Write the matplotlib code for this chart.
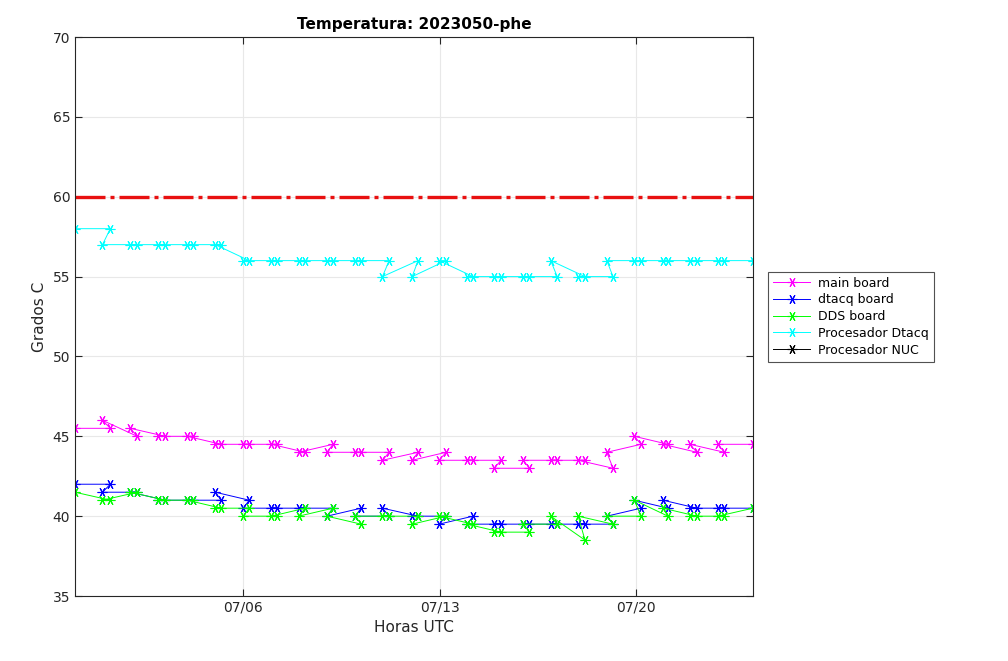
import matplotlib
matplotlib.use('Agg')
import matplotlib.pyplot as plt
from datetime import datetime, timedelta

# muestras (dias desde 06/30 00:00), en el orden en que vienen del archivo
inicio = datetime(2023, 6, 30)
dias = [0.0, 1.26, 0.98, 2.22, 1.97, 3.22, 2.97, 4.22, 4.00, 5.21, 5.00,
        6.21, 6.00, 7.21, 7.00, 8.21, 7.97, 9.20, 8.98, 10.20, 9.99,
        11.20, 10.96, 12.23, 12.02, 13.23, 12.98, 14.19, 13.98, 15.19, 14.94,
        16.20, 15.98, 17.19, 16.96, 18.18, 17.94, 19.18, 18.96, 20.18, 19.94,
        21.14, 20.96, 22.17, 21.92, 23.15, 22.92, 24.17]

main_board = [45.5, 45.5, 46, 45, 45.5, 45, 45, 45, 45, 44.5, 44.5,
              44.5, 44.5, 44.5, 44.5, 44, 44, 44.5, 44, 44, 44,
              44, 43.5, 44, 43.5, 44, 43.5, 43.5, 43.5, 43.5, 43,
              43, 43.5, 43.5, 43.5, 43.5, 43.5, 43, 44, 44.5, 45,
              44.5, 44.5, 44, 44.5, 44, 44.5, 44.5]

dtacq_board = [42, 42, 41.5, 41.5, 41.5, 41, 41, 41, 41, 41, 41.5,
               41, 40.5, 40.5, 40.5, 40.5, 40.5, 40.5, 40, 40.5, 40,
               40, 40.5, 40, 40, 40, 39.5, 40, 39.5, 39.5, 39.5,
               39.5, 39.5, 39.5, 39.5, 39.5, 39.5, 39.5, 40, 40.5, 41,
               40.5, 41, 40.5, 40.5, 40.5, 40.5, 40.5]

dds_board = [41.5, 41, 41, 41.5, 41.5, 41, 41, 41, 41, 40.5, 40.5,
             40.5, 40, 40, 40, 40.5, 40, 40.5, 40, 39.5, 40,
             40, 40, 40, 39.5, 40, 40, 39.5, 39.5, 39, 39,
             39, 39.5, 39.5, 40, 38.5, 40, 39.5, 40, 40, 41,
             40, 40.5, 40, 40, 40, 40, 40.5]

proc_dtacq = [58, 58, 57, 57, 57, 57, 57, 57, 57, 57, 57,
              56, 56, 56, 56, 56, 56, 56, 56, 56, 56,
              56, 55, 56, 55, 56, 56, 55, 55, 55, 55,
              55, 55, 55, 56, 55, 55, 55, 56, 56, 56,
              56, 56, 56, 56, 56, 56, 56]

proc_nuc = []  # sin datos en este periodo

limite = 60
tick_fechas = [datetime(2023, 7, 6), datetime(2023, 7, 13), datetime(2023, 7, 20)]
tick_textos = ['07/06', '07/13', '07/20']

fechas = [inicio + timedelta(days=d) for d in dias]

fig = plt.figure(figsize=(10.08, 6.61), dpi=100)
ax = fig.add_axes([0.0744, 0.0983, 0.6726, 0.8457])

asterisco = (6, 2, 90)
estilo = dict(marker=asterisco, ms=7, mew=0.8, lw=0.7)
ax.plot(fechas, main_board, color='#ff00ff', label='main board', **estilo)
ax.plot(fechas, dtacq_board, color='#0000ff', label='dtacq board', **estilo)
ax.plot(fechas, dds_board, color='#00ff00', label='DDS board', **estilo)
ax.plot(fechas, proc_dtacq, color='#00ffff', label='Procesador Dtacq', **estilo)
ax.plot(fechas[:len(proc_nuc)], proc_nuc, color='k', label='Procesador NUC', **estilo)
ax.axhline(limite, color='#e81010', lw=2.4, dashes=(9, 1.5, 1.2, 1.5))

ax.set_xlim(fechas[0], fechas[-1])
ax.set_ylim(35, 70)
ax.set_yticks(range(35, 71, 5))
ax.set_xticks(tick_fechas)
ax.set_xticklabels(tick_textos)

ax.grid(True, color='#e8e8e8', lw=0.8)
ax.set_axisbelow(True)
for s in ax.spines.values():
    s.set_color('#262626')
    s.set_linewidth(0.8)
ax.tick_params(direction='in', top=True, right=True, labelsize=10,
               colors='#262626', length=5)

ax.set_title('Temperatura: 2023050-phe', fontsize=11, fontweight='bold')
ax.set_xlabel('Horas UTC', fontsize=11, color='#262626')
ax.set_ylabel('Grados C', fontsize=11, color='#262626')

leg = ax.legend(loc='center left', bbox_to_anchor=(1.022, 0.5), fontsize=9,
                frameon=True, fancybox=False, handlelength=3.0,
                borderaxespad=0, labelspacing=0.3, borderpad=0.4,
                handletextpad=0.6)
leg.get_frame().set_edgecolor('#262626')
leg.get_frame().set_linewidth(0.8)

fig.savefig('out.png', dpi=100)
